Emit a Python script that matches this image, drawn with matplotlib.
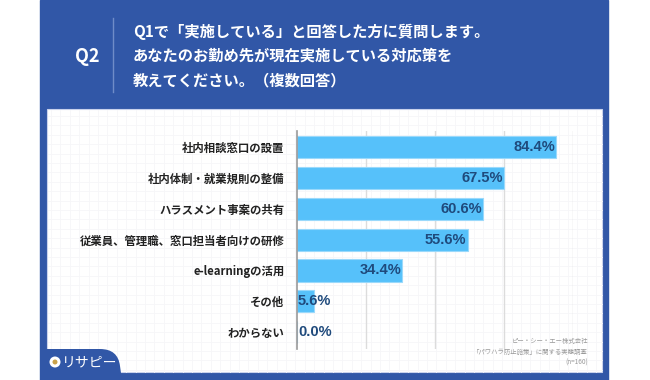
import matplotlib.pyplot as plt
import numpy as np
from matplotlib.patches import Rectangle, PathPatch, Ellipse
from matplotlib.path import Path

plt.rcParams['font.family'] = ['Noto Sans CJK JP', 'DejaVu Sans']

categories = ['社内相談窓口の設置', '社内体制・就業規則の整備', 'ハラスメント事案の共有',
              '従業員、管理職、窓口担当者向けの研修', 'e-learningの活用', 'その他', 'わからない']
values = [84.4, 67.5, 60.6, 55.6, 34.4, 5.6, 0.0]
grid_ticks = [22.5, 45, 67.5, 90]

title_lines = ['Q1で「実施している」と回答した方に質問します。',
               'あなたのお勤め先が現在実施している対応策を',
               '教えてください。（複数回答）']
source_lines = ['ピー・シー・エー株式会社', '「パワハラ防止施策」に関する実態調査', '(n=160)']

W, H = 650, 380
BLUE = '#3157a7'
BAR = '#56c1fa'
NAVY = '#1f4a7c'

fig = plt.figure(figsize=(W / 100, H / 100), dpi=100)

def fx(x):
    return x / W

def fy(y):
    return 1 - y / H

def box(x0, y0, x1, y1, **kw):
    fig.add_artist(Rectangle((fx(x0), fy(y1)), fx(x1) - fx(x0), fy(y0) - fy(y1),
                             transform=fig.transFigure, **kw))

# blue frame + white panel
box(40, 0, 608, 380, color=BLUE, zorder=0)
box(47, 109, 602, 372, facecolor='white', edgecolor='#c9d2ec', lw=0.8, zorder=0.5)

# faint background grid on the panel
for gx in np.arange(51, 602, 9.4):
    fig.add_artist(plt.Line2D([fx(gx)] * 2, [fy(110), fy(371.5)], color='#f6f6f8',
                              lw=0.6, transform=fig.transFigure, zorder=0.6))
for gy in np.arange(116, 372, 9.4):
    fig.add_artist(plt.Line2D([fx(47.5), fx(601.5)], [fy(gy)] * 2, color='#f6f6f8',
                              lw=0.6, transform=fig.transFigure, zorder=0.6))

# header
fig.text(fx(87), fy(56), 'Q2', color='white', fontsize=13, fontweight='bold',
         ha='center', va='center')
fig.add_artist(plt.Line2D([fx(113)] * 2, [fy(18), fy(92)], color='#6f8cc8', lw=1,
                          transform=fig.transFigure))
for i, line in enumerate(title_lines):
    fig.text(fx(133), fy(32 + 24 * i), line, color='white', fontsize=11,
             fontweight='bold', ha='left', va='center')

# chart
ax = fig.add_axes([fx(297), fy(349), fx(573) - fx(297), fy(131) - fy(349)])
ax.set_zorder(2)
ax.patch.set_alpha(0)
y = np.arange(len(categories))
ax.barh(y, values, height=0.72, color=BAR, edgecolor='#9ad9fb', lw=0.8, zorder=2)
ax.set_xlim(0, 90)
ax.set_ylim(6.55, -0.53)
ax.set_xticks(grid_ticks)
ax.grid(axis='x', color='#dcdcdc', lw=1, zorder=1)
ax.tick_params(length=0, labelbottom=False)
ax.set_yticks(y)
ax.set_yticklabels(categories, fontsize=8.2, fontweight='bold', color='#222222')
ax.tick_params(axis='y', pad=9)
for s in ['top', 'right', 'bottom']:
    ax.spines[s].set_visible(False)
ax.spines['left'].set_color('#999999')
ax.spines['left'].set_linewidth(1.2)
ax.spines['left'].set_zorder(3)

val_font = ['Liberation Sans', 'DejaVu Sans']
for yi, v in zip(y, values):
    txt = f'{v:.1f}%'
    if v > 12:
        ax.text(v - 0.3, yi, txt, ha='right', va='center', fontsize=10.5,
                fontweight='bold', color=NAVY, family=val_font, zorder=4)
    else:
        ax.text(0.3, yi, txt, ha='left', va='center', fontsize=10.5,
                fontweight='bold', color=NAVY, family=val_font, zorder=4)

# source note
for i, line in enumerate(source_lines):
    fig.text(fx(588), fy(341 + 11 * i), line, color='#999999', fontsize=4.6,
             ha='right', va='center', zorder=5)

# logo tab
verts = [(40, 380), (40, 349), (100, 349), (118, 349), (120, 366), (122, 380), (40, 380)]
codes = [Path.MOVETO, Path.LINETO, Path.LINETO, Path.CURVE3, Path.CURVE3,
         Path.LINETO, Path.CLOSEPOLY]
tab = Path([(fx(a), fy(b)) for a, b in verts], codes)
fig.add_artist(PathPatch(tab, facecolor=BLUE, edgecolor='none',
                         transform=fig.transFigure, zorder=6))
fig.add_artist(Ellipse((fx(55), fy(362)), 11 / W, 11 / H, facecolor='white',
                       edgecolor='none', transform=fig.transFigure, zorder=7))
fig.add_artist(Ellipse((fx(55), fy(362)), 5 / W, 5 / H, facecolor='#c9a24a',
                       edgecolor='none', transform=fig.transFigure, zorder=8))
fig.text(fx(62), fy(362), 'リサピー', color='white', fontsize=10,
         ha='left', va='center', zorder=8)

fig.savefig('out.png', dpi=100)
